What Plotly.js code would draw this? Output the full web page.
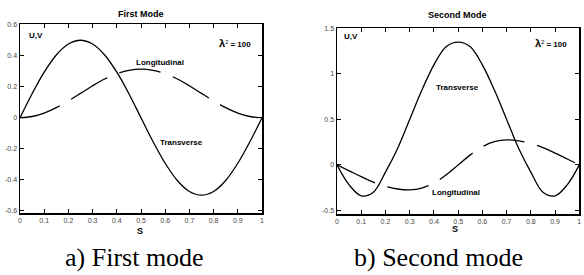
<!DOCTYPE html>
<html>
<head>
<meta charset="utf-8">
<script src="https://cdn.plot.ly/plotly-3.0.1.min.js"></script>
<style>html,body{margin:0;padding:0;background:#fff;}#chart{width:584px;height:275px;}</style>
</head>
<body>
<div id="chart"></div>
<script>
// Arc length coordinate S
const s = [0,0.05,0.1,0.15,0.2,0.25,0.3,0.35,0.4,0.45,0.5,0.55,0.6,0.65,0.7,0.75,0.8,0.85,0.9,0.95,1];
// First mode
const mode1Transverse   = [0,0.155,0.294,0.405,0.476,0.5,0.476,0.405,0.294,0.155,0,-0.155,-0.294,-0.405,-0.476,-0.5,-0.476,-0.405,-0.294,-0.155,0];
const mode1Longitudinal = [0,0.008,0.03,0.065,0.109,0.157,0.206,0.25,0.284,0.306,0.314,0.306,0.284,0.25,0.206,0.157,0.109,0.065,0.03,0.008,0];
// Second mode
const mode2Transverse   = [0,-0.22,-0.34,-0.3,-0.08,0.18,0.5,0.82,1.1,1.3,1.35,1.3,1.1,0.82,0.5,0.18,-0.08,-0.3,-0.34,-0.22,0];
const mode2Longitudinal = [0,-0.065,-0.13,-0.19,-0.235,-0.265,-0.275,-0.255,-0.2,-0.11,0,0.11,0.2,0.255,0.275,0.265,0.235,0.19,0.13,0.065,0];
const xTicks = [0,0.1,0.2,0.3,0.4,0.5,0.6,0.7,0.8,0.9,1];
const y1Ticks = [-0.6,-0.4,-0.2,0,0.2,0.4,0.6];
const y2Ticks = [-0.5,0,0.5,1,1.5];

const W = 584, H = 275;
const px = x => x / W, py = y => 1 - y / H;

const solid = {color:'#000', width:1.3, shape:'spline', smoothing:1};
const dashed = {color:'#000', width:1.3, shape:'spline', smoothing:1, dash:'42px,13px'};

const traces = [
  {x:s, y:mode1Transverse, xaxis:'x', yaxis:'y', mode:'lines', line:solid, hoverinfo:'skip'},
  {x:s, y:mode1Longitudinal, xaxis:'x', yaxis:'y', mode:'lines', line:dashed, hoverinfo:'skip'},
  {x:s, y:mode2Transverse, xaxis:'x2', yaxis:'y2', mode:'lines', line:solid, hoverinfo:'skip'},
  {x:s, y:mode2Longitudinal, xaxis:'x2', yaxis:'y2', mode:'lines', line:dashed, hoverinfo:'skip'}
];

const tickFont = {family:'Liberation Sans, Arial', size:7, color:'#444'};
const axBase = {
  showline:true, linecolor:'#000', linewidth:1.5, mirror:'allticks',
  ticks:'inside', ticklen:4, tickwidth:1, tickcolor:'#000',
  showgrid:false, zeroline:false, tickfont:tickFont, fixedrange:true
};

const boldLbl = (text, x, y, size, anchor) => ({
  text:text, x:px(x), y:py(y), xref:'paper', yref:'paper', showarrow:false,
  xanchor:anchor||'center', yanchor:'middle',
  font:{family:'Liberation Sans, Arial', size:size, color:'#000'}
});

const lam = '<span style="font-size:11px"><b>λ</b></span><sup>2</sup><b> = 100</b>';

const annotations = [
  boldLbl('<b>First Mode</b>', 141, 14, 9),
  boldLbl('<b>Second Mode</b>', 457, 15, 9),
  boldLbl('<b>U,V</b>', 27, 36, 8, 'left'),
  boldLbl('<b>U,V</b>', 342, 37, 8, 'left'),
  boldLbl(lam, 235, 43, 8),
  boldLbl(lam, 551, 43, 8),
  boldLbl('<b>Longitudinal</b>', 160, 62, 8),
  boldLbl('<b>Transverse</b>', 181, 142, 8),
  boldLbl('<b>Transverse</b>', 457.5, 87, 8),
  boldLbl('<b>Longitudinal</b>', 456, 192, 8),
  boldLbl('<b>S</b>', 140, 231, 9),
  boldLbl('<b>S</b>', 455, 229, 9),
  {text:'a) First mode', x:px(134), y:py(257), xref:'paper', yref:'paper', showarrow:false,
   xanchor:'center', yanchor:'middle', font:{family:'Liberation Serif, Times New Roman', size:26, color:'#000'}},
  {text:'b) Second mode', x:px(438), y:py(257), xref:'paper', yref:'paper', showarrow:false,
   xanchor:'center', yanchor:'middle', font:{family:'Liberation Serif, Times New Roman', size:26, color:'#000'}}
];

const layout = {
  width:W, height:H, showlegend:false,
  margin:{l:0, r:0, t:0, b:0},
  paper_bgcolor:'#fff', plot_bgcolor:'#fff',
  xaxis: Object.assign({}, axBase, {domain:[px(20), px(262)], range:[0,1], tickvals:xTicks, ticktext:xTicks.map(String), anchor:'y'}),
  yaxis: Object.assign({}, axBase, {domain:[py(213), py(24)], range:[-0.615,0.605], tickvals:y1Ticks, ticktext:y1Ticks.map(String), anchor:'x'}),
  xaxis2: Object.assign({}, axBase, {domain:[px(337), px(579.3)], range:[0,1], tickvals:xTicks, ticktext:xTicks.map(String), anchor:'y2'}),
  yaxis2: Object.assign({}, axBase, {domain:[py(214), py(28)], range:[-0.54,1.505], tickvals:y2Ticks, ticktext:y2Ticks.map(String), anchor:'x2'}),
  annotations: annotations
};

Plotly.newPlot('chart', traces, layout, {displayModeBar:false, staticPlot:true});
</script>
</body>
</html>
